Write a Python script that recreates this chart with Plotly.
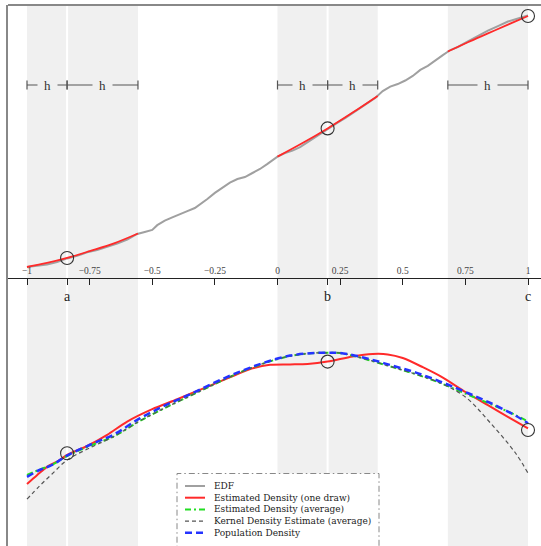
import plotly.graph_objects as go

# ---------------- data ----------------
pt_labels = ["a", "b", "c"]
pt_x = [-0.84, 0.2, 1.0]
edf_at_pts = [0.036, 0.55, 0.996]
dens_at_pts = [0.417, 0.646, 0.475]

win_left = [-1.0, 0.0, 0.68]
win_right = [-0.557, 0.4, 1.0]

hbar_x0 = [-1.0, -0.84, 0.0, 0.2, 0.68]
hbar_x1 = [-0.84, -0.557, 0.2, 0.4, 1.0]
hbar_text = ["h", "h", "h", "h", "h"]

tick_vals = [-1, -0.75, -0.5, -0.25, 0, 0.25, 0.5, 0.75, 1]
tick_text = ["\u22121", "\u22120.75", "\u22120.5", "\u22120.25", "0", "0.25", "0.5", "0.75", "1"]

edf_x = [-1.0, -0.96, -0.92, -0.88, -0.84, -0.8, -0.76, -0.72, -0.68, -0.64, -0.6, -0.56,
         -0.53, -0.5, -0.48, -0.45, -0.42, -0.39, -0.36, -0.33, -0.3, -0.28, -0.25, -0.22,
         -0.19, -0.16, -0.13, -0.1, -0.07, -0.04, -0.02, 0.0, 0.03, 0.06, 0.09, 0.12, 0.15,
         0.18, 0.21, 0.24, 0.27, 0.3, 0.33, 0.36, 0.39, 0.42, 0.45, 0.48, 0.51, 0.54, 0.57,
         0.6, 0.63, 0.66, 0.69, 0.72, 0.76, 0.8, 0.84, 0.88, 0.92, 0.96, 1.0]
edf_y = [0.000, 0.004, 0.010, 0.020, 0.034, 0.044, 0.058, 0.067, 0.079, 0.093, 0.109, 0.131,
         0.139, 0.147, 0.166, 0.184, 0.197, 0.208, 0.222, 0.234, 0.254, 0.270, 0.294, 0.313,
         0.335, 0.349, 0.357, 0.373, 0.389, 0.409, 0.425, 0.438, 0.452, 0.462, 0.476, 0.496,
         0.516, 0.536, 0.556, 0.573, 0.591, 0.611, 0.631, 0.651, 0.671, 0.698, 0.716, 0.726,
         0.740, 0.758, 0.782, 0.798, 0.821, 0.841, 0.861, 0.873, 0.895, 0.917, 0.938, 0.956,
         0.974, 0.986, 0.998]

fit1_x = [-1.0, -0.92, -0.84, -0.75, -0.65, -0.557]
fit1_y = [0.0, 0.016, 0.036, 0.063, 0.095, 0.133]
fit2_x = [0.0, 0.1, 0.2, 0.3, 0.4]
fit2_y = [0.438, 0.492, 0.550, 0.613, 0.679]
fit3_x = [0.68, 0.76, 0.84, 0.92, 1.0]
fit3_y = [0.855, 0.892, 0.927, 0.962, 0.996]

dens_x = [-1.0, -0.95, -0.9, -0.84, -0.75, -0.65, -0.55, -0.45, -0.35, -0.25, -0.15, -0.05,
          0.05, 0.15, 0.2, 0.25, 0.35, 0.45, 0.55, 0.65, 0.75, 0.85, 0.95, 1.0]
pop_y = [0.358, 0.375, 0.3875, 0.411, 0.4375, 0.465, 0.504, 0.536, 0.564, 0.594, 0.621, 0.644,
         0.661, 0.6675, 0.668, 0.6675, 0.655, 0.6375, 0.619, 0.596, 0.57, 0.5425, 0.511, 0.492]
avg_y = [0.3625, 0.376, 0.388, 0.41, 0.435, 0.46, 0.4975, 0.53, 0.56, 0.59, 0.619, 0.6425,
         0.66, 0.6675, 0.668, 0.6675, 0.6525, 0.634, 0.615, 0.5925, 0.566, 0.54, 0.5125, 0.496]
kde_y = [0.302, 0.335, 0.365, 0.40, 0.43, 0.46, 0.4975, 0.53, 0.56, 0.59, 0.619, 0.6425,
         0.66, 0.6675, 0.668, 0.6675, 0.6525, 0.634, 0.615, 0.5925, 0.5575, 0.4925, 0.4175, 0.367]

est_x = [-1.0, -0.96, -0.92, -0.88, -0.84, -0.76, -0.68, -0.6, -0.5, -0.4, -0.3, -0.2,
         -0.1, -0.03, 0.05, 0.12, 0.2, 0.3, 0.38, 0.44, 0.5, 0.58, 0.66, 0.75, 0.84, 0.93, 1.0]
est_y = [0.34, 0.362, 0.383, 0.396, 0.4125, 0.435, 0.463, 0.496, 0.527, 0.552, 0.578, 0.604,
         0.629, 0.638, 0.639, 0.640, 0.646, 0.659, 0.665, 0.664, 0.655, 0.632, 0.606, 0.570,
         0.537, 0.504, 0.479]

legend_names = ["EDF", "Estimated Density (one draw)", "Estimated Density (average)",
                "Kernel Density Estimate (average)", "Population Density"]

# ---------------- geometry ----------------
W, H = 541, 546
FONT = "Liberation Serif"
LEG_FONT = "DejaVu Serif"
LEG_SIZE = 9
x_lo = -1 - 19 / 250.5
x_hi = 1 + 13 / 250.5
axis_pos = 1 - 277.6 / H
top_pos = 1 - 5 / H
y_top_range = [-10.6 / 252, 262 / 252]
y_bot_range = [(620 - 546) / 400, (620 - 277.6) / 400]

def py(pix):
    return 1 - pix / H

EDF_C = "#a0a0a0"
RED = "#ff2a2a"
GREEN = "#22dd22"
KDE_C = "#555555"
BLUE = "#2433ff"

styles = [
    dict(color=EDF_C, width=2),
    dict(color=RED, width=2),
    dict(color=GREEN, width=2, dash="6px,3px,2px,3px"),
    dict(color=KDE_C, width=1.2, dash="4px,3px"),
    dict(color=BLUE, width=2.5, dash="7px,4px"),
]

fig = go.Figure()

# top panel
fig.add_trace(go.Scatter(x=edf_x, y=edf_y, mode="lines", line=styles[0], xaxis="x", yaxis="y"))
for fx, fy in [(fit1_x, fit1_y), (fit2_x, fit2_y), (fit3_x, fit3_y)]:
    fig.add_trace(go.Scatter(x=fx, y=fy, mode="lines", line=dict(color=RED, width=1.8, shape="spline"),
                             xaxis="x", yaxis="y"))
fig.add_trace(go.Scatter(x=pt_x, y=edf_at_pts, mode="markers", xaxis="x2", yaxis="y",
                         marker=dict(symbol="circle-open", size=13, color="#333", line=dict(width=1.1))))

# bottom panel
fig.add_trace(go.Scatter(x=est_x, y=est_y, mode="lines", line=dict(styles[1], shape="spline", smoothing=0.8),
                         xaxis="x", yaxis="y2"))
fig.add_trace(go.Scatter(x=dens_x, y=avg_y, mode="lines", line=dict(styles[2], shape="spline"), xaxis="x", yaxis="y2"))
fig.add_trace(go.Scatter(x=dens_x, y=kde_y, mode="lines", line=dict(styles[3], shape="spline"), xaxis="x", yaxis="y2"))
fig.add_trace(go.Scatter(x=dens_x, y=pop_y, mode="lines", line=dict(styles[4], shape="spline"), xaxis="x", yaxis="y2"))
fig.add_trace(go.Scatter(x=pt_x, y=dens_at_pts, mode="markers", xaxis="x", yaxis="y2",
                         marker=dict(symbol="circle-open", size=13, color="#333", line=dict(width=1.1))))

shapes = []
for l, r in zip(win_left, win_right):
    shapes.append(dict(type="rect", xref="x", yref="paper", x0=l, x1=r, y0=0, y1=top_pos,
                       fillcolor="#f0f0f0", line=dict(width=0), layer="below"))
for xv in pt_x[:2]:
    shapes.append(dict(type="line", xref="x", yref="paper", x0=xv, x1=xv, y0=0, y1=top_pos,
                       line=dict(color="white", width=2), layer="below"))
# frame
shapes.append(dict(type="line", xref="paper", yref="paper", x0=8 / W, x1=1, y0=top_pos, y1=top_pos,
                   line=dict(color="#888", width=2)))

# h bars
hb_y = py(85)
annotations = []
for x0, x1, t in zip(hbar_x0, hbar_x1, hbar_text):
    shapes.append(dict(type="line", xref="x", yref="paper", x0=x0, x1=x1, y0=hb_y, y1=hb_y,
                       line=dict(color="#555", width=1.2)))
    for xe in (x0, x1):
        shapes.append(dict(type="line", xref="x", yref="paper", x0=xe, x1=xe, y0=py(80.5), y1=py(89.5),
                           line=dict(color="#555", width=1.2)))
    annotations.append(dict(x=(x0 + x1) / 2, y=hb_y, xref="x", yref="paper", text=t, showarrow=False,
                            font=dict(family=FONT, size=13, color="#333"), bgcolor="#f0f0f0",
                            borderpad=6, xanchor="center", yanchor="middle"))

# manual legend (one multi-line text block + line samples)
row_gap = 1.3 * LEG_SIZE
row0 = 486
lx0, lx1 = 177 / W, 379 / W
shapes.append(dict(type="rect", xref="paper", yref="paper", x0=lx0, x1=lx1, y0=-0.05, y1=py(473.5),
                   fillcolor="white", line=dict(color="#888", width=1, dash="6px,3px,1.5px,3px"),
                   layer="above"))
for i, st in enumerate(styles):
    yy = py(row0 + row_gap * i)
    shapes.append(dict(type="line", xref="paper", yref="paper", x0=185 / W, x1=205 / W, y0=yy, y1=yy,
                       line=st, layer="above"))
annotations.append(dict(x=212 / W, y=py(row0 + row_gap * 2), xref="paper", yref="paper",
                        text="<br>".join(legend_names), showarrow=False, align="left",
                        xanchor="left", yanchor="middle",
                        font=dict(family=LEG_FONT, size=LEG_SIZE, color="#222")))

fig.update_layout(
    width=W, height=H, margin=dict(l=0, r=0, t=0, b=0),
    paper_bgcolor="white", plot_bgcolor="white", showlegend=False,
    xaxis=dict(domain=[8 / W, 1], range=[x_lo, x_hi], anchor="free", position=axis_pos, side="top",
               tickvals=tick_vals, ticktext=tick_text, ticks="inside", ticklen=6, tickcolor="#222",
               tickwidth=1, showline=True, linecolor="#222", linewidth=1, showgrid=False,
               zeroline=False, tickfont=dict(family=FONT, size=9.5, color="#444")),
    xaxis2=dict(domain=[8 / W, 1], range=[x_lo, x_hi], overlaying="x", anchor="free", position=axis_pos,
                side="bottom", tickvals=pt_x, ticktext=pt_labels, ticks="outside", ticklen=6,
                tickcolor="#222", tickwidth=1, showline=False, showgrid=False, zeroline=False,
                tickfont=dict(family=FONT, size=14, color="#222")),
    yaxis=dict(domain=[axis_pos, top_pos], range=y_top_range, showline=True, linecolor="#888",
               linewidth=2, showticklabels=False, ticks="", showgrid=False, zeroline=False),
    yaxis2=dict(domain=[0, axis_pos], range=y_bot_range, showline=True, linecolor="#888",
                linewidth=2, showticklabels=False, ticks="", showgrid=False, zeroline=False),
    shapes=shapes, annotations=annotations,
)

fig.write_html("out.html")
